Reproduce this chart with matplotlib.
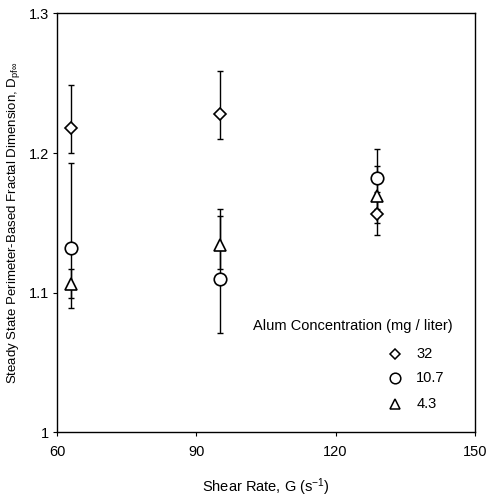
import matplotlib
matplotlib.use("Agg")
import matplotlib.pyplot as plt
import numpy as np

plt.rcParams['font.family'] = ['Liberation Sans', 'DejaVu Sans']
plt.rcParams['mathtext.fontset'] = 'custom'
plt.rcParams['mathtext.rm'] = 'Liberation Sans'
plt.rcParams['mathtext.it'] = 'Liberation Sans'

shear = [63, 95, 129]
labels = ['32', '10.7', '4.3']
markers = ['D', 'o', '^']
msizes = [6, 9, 8]
# values and error-bar limits per alum concentration
d32 = [1.218, 1.228, 1.156]
d32_lo = [1.200, 1.210, 1.141]
d32_hi = [1.249, 1.259, 1.172]
d107 = [1.132, 1.110, 1.182]
d107_lo = [1.089, 1.071, 1.160]
d107_hi = [1.193, 1.155, 1.203]
d43 = [1.106, 1.134, 1.169]
d43_lo = [1.096, 1.117, 1.150]
d43_hi = [1.117, 1.160, 1.191]

series = [(d32, d32_lo, d32_hi), (d107, d107_lo, d107_hi), (d43, d43_lo, d43_hi)]

fig = plt.figure(figsize=(4.92, 4.99), dpi=100)
ax = fig.add_axes([0.116, 0.134, 0.849, 0.839])

for (vals, lo, hi), m, ms in zip(series, markers, msizes):
    v = np.array(vals); l = np.array(lo); h = np.array(hi)
    ax.errorbar(shear, v, yerr=[v - l, h - v], fmt='none', ecolor='black',
                elinewidth=1.0, capsize=2, capthick=1.0)
    ax.plot(shear, v, linestyle='none', marker=m, ms=ms, mfc='white',
            mec='black', mew=1.2, zorder=3)

ax.set_xlim(60, 150)
ax.set_ylim(1.0, 1.3)
ax.set_xticks([60, 90, 120, 150])
ax.set_yticks([1.0, 1.1, 1.2, 1.3])
ax.set_yticklabels(['1', '1.1', '1.2', '1.3'])
ax.tick_params(direction='out', length=3, width=0.8, labelsize=10.5)
ax.tick_params(axis='x', pad=6)
ax.tick_params(axis='y', pad=3)
for s in ax.spines.values():
    s.set_linewidth(1.0)

ax.set_xlabel('Shear Rate, G (s$^{-1}$)', fontsize=10.5, labelpad=13)
ax.set_ylabel('Steady State Perimeter-Based Fractal Dimension, D$_{pf\\infty}$',
              fontsize=9.5, labelpad=5)

# legend drawn manually
ax.text(0.469, 0.253, 'Alum Concentration (mg / liter)', transform=ax.transAxes,
        fontsize=10.5, va='center', ha='left')
ys = [0.187, 0.129, 0.067]
for lab, m, ms, y in zip(labels, markers, msizes, ys):
    ax.plot([0.809], [y], transform=ax.transAxes, marker=m, ms=ms * 0.85,
            mfc='white', mec='black', mew=1.1, linestyle='none', clip_on=False)
    ax.text(0.860, y, lab, transform=ax.transAxes, fontsize=10.5, va='center', ha='left')

fig.savefig('out.png', dpi=100)
